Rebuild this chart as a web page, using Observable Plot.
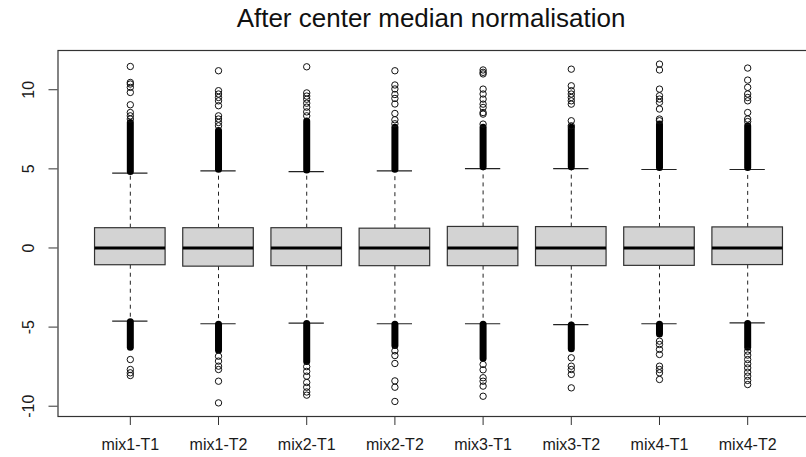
<!DOCTYPE html>
<html>
<head>
<meta charset="utf-8">
<script src="https://cdn.jsdelivr.net/npm/d3@7"></script>
<script src="https://cdn.jsdelivr.net/npm/@observablehq/plot@0.6"></script>
<style>
  html, body { margin: 0; padding: 0; background: #fff; overflow: hidden; width: 806px; height: 457px; }
  #title { position: relative; height: 42px; width: 862px; text-align: center;
           font-family: "Liberation Sans", Arial, sans-serif; font-size: 26px; line-height: 26px;
           padding-top: 4.7px; box-sizing: border-box; color: #111; white-space: nowrap; }
  #chart { width: 822px; }
  #chart svg { display: block; max-width: none !important; }
</style>
</head>
<body>
<div id="title">After center median normalisation</div>
<div id="chart"></div>
<script>
// ---- data ----
const groups = ["mix1-T1", "mix1-T2", "mix2-T1", "mix2-T2", "mix3-T1", "mix3-T2", "mix4-T1", "mix4-T2"];
const medians = [0, 0, 0, 0, 0, 0, 0, 0];
const q1 = [-1.09, -1.18, -1.15, -1.15, -1.15, -1.15, -1.13, -1.08];
const q3 = [1.25, 1.25, 1.25, 1.22, 1.33, 1.32, 1.30, 1.30];
const whiskerLow = [-4.62, -4.79, -4.75, -4.79, -4.79, -4.85, -4.79, -4.73];
const whiskerHigh = [4.73, 4.87, 4.82, 4.87, 5.02, 5.02, 4.96, 4.96];
// dense runs of overlapping outliers (from, to)
const denseHigh = [[4.8, 7.9], [4.95, 7.4], [4.9, 8.0], [4.95, 7.6], [5.1, 7.6], [5.1, 7.6], [5.05, 7.8], [5.05, 7.7]];
const denseLow = [[-4.7, -6.3], [-4.85, -6.5], [-4.8, -7.2], [-4.85, -6.2], [-4.85, -7.0], [-4.9, -6.4], [-4.85, -5.46], [-4.8, -6.31]];
// separate outliers
const outHigh = [
  [11.47, 10.46, 10.36, 10.15, 9.83, 9.05, 8.56, 8.35, 8.15],
  [11.2, 9.94, 9.73, 9.51, 9.30, 8.99, 8.35, 8.15, 7.93, 7.72],
  [11.45, 9.8, 9.6, 9.4, 9.15, 8.9, 8.6, 8.35],
  [11.2, 10.3, 10.05, 9.7, 9.45, 9.1, 8.5, 8.1, 7.85],
  [11.25, 11.1, 11.0, 10.04, 9.73, 9.41, 9.09, 8.88, 8.56, 8.46, 7.83],
  [11.3, 10.25, 9.94, 9.73, 9.51, 9.30, 9.09, 8.04, 7.72],
  [11.62, 11.25, 10.04, 9.62, 9.41, 9.2, 8.78, 8.15, 8.04],
  [11.37, 10.61, 10.15, 9.73, 9.51, 9.3, 8.56, 8.15, 7.99]
];
const outLow = [
  [-7.05, -7.68, -7.89, -8.06],
  [-6.84, -7.15, -7.47, -7.68, -8.42, -9.79],
  [-7.5, -7.8, -8.1, -8.5, -8.8, -9.1, -9.3],
  [-6.5, -6.8, -7.3, -8.4, -8.8, -9.7],
  [-7.36, -7.7, -8.2, -8.42, -8.73, -9.37],
  [-6.94, -7.47, -7.68, -7.99, -8.84],
  [-5.89, -6.1, -6.41, -6.73, -7.47, -7.68, -7.89, -8.31],
  [-6.52, -6.77, -7.05, -7.32, -7.58, -7.85, -8.1, -8.37, -8.63]
];
const yTicks = [-10, -5, 0, 5, 10];

// ---- layout / style constants ----
const xDomain = [0.18, 8.82];
const yDomain = [-10.65, 12.48];
const boxHalf = 0.4;
const stapleHalf = 0.2;
const ink = "#1a1a1a";
const font = "'Liberation Sans', Arial, sans-serif";

const boxes = groups.map((g, i) => ({
  pos: i + 1, name: g, q1: q1[i], q3: q3[i], med: medians[i],
  lo: whiskerLow[i], hi: whiskerHigh[i],
  dh: denseHigh[i], dl: denseLow[i]
}));
const outliers = groups.flatMap((g, i) =>
  outHigh[i].concat(outLow[i]).map(v => ({pos: i + 1, v})));

const chart = Plot.plot({
  width: 822,
  height: 415,
  marginLeft: 57.5,
  marginRight: 2.5,
  marginTop: 8,
  marginBottom: 41,
  style: {fontFamily: font, fontSize: "16px", color: ink, background: "#fff", maxWidth: "none"},
  x: {domain: xDomain, label: null},
  y: {domain: yDomain, label: null},
  marks: [
    // whiskers (dashed)
    Plot.ruleX(boxes, {x: "pos", y1: "q3", y2: "hi", stroke: "#222", strokeDasharray: "4,4", strokeWidth: 1}),
    Plot.ruleX(boxes, {x: "pos", y1: "q1", y2: "lo", stroke: "#222", strokeDasharray: "4,4", strokeWidth: 1}),
    // staples
    Plot.ruleY(boxes, {y: "hi", x1: d => d.pos - stapleHalf, x2: d => d.pos + stapleHalf, stroke: "#222", strokeWidth: 1.2}),
    Plot.ruleY(boxes, {y: "lo", x1: d => d.pos - stapleHalf, x2: d => d.pos + stapleHalf, stroke: "#222", strokeWidth: 1.2}),
    // dense outlier runs
    Plot.ruleX(boxes, {x: "pos", y1: d => d.dh[0], y2: d => d.dh[1], stroke: "#000", strokeWidth: 7, strokeLinecap: "round"}),
    Plot.ruleX(boxes, {x: "pos", y1: d => d.dl[0], y2: d => d.dl[1], stroke: "#000", strokeWidth: 7, strokeLinecap: "round"}),
    // individual outliers
    Plot.dot(outliers, {x: "pos", y: "v", r: 3.2, stroke: "#111", strokeWidth: 1, fill: "none"}),
    // boxes
    Plot.rect(boxes, {x1: d => d.pos - boxHalf, x2: d => d.pos + boxHalf, y1: "q1", y2: "q3", fill: "#d3d3d3", stroke: "#333", strokeWidth: 1.2}),
    // medians
    Plot.ruleY(boxes, {y: "med", x1: d => d.pos - boxHalf, x2: d => d.pos + boxHalf, stroke: "#000", strokeWidth: 3}),
    // axes
    Plot.axisY({ticks: yTicks, tickSize: 9, tickFormat: () => "", stroke: "#333"}),
    Plot.text(yTicks, {x: xDomain[0], y: d => d, text: d => String(d), rotate: -90, dx: -29, fontSize: 16, fill: ink}),
    Plot.axisX({ticks: groups.map((g, i) => i + 1), tickFormat: p => groups[p - 1], tickSize: 9, tickPadding: 13, fontSize: 16, stroke: "#333", fill: ink}),
    Plot.frame({stroke: "#333", strokeWidth: 1.2})
  ]
});
document.getElementById("chart").appendChild(chart);
</script>
</body>
</html>
